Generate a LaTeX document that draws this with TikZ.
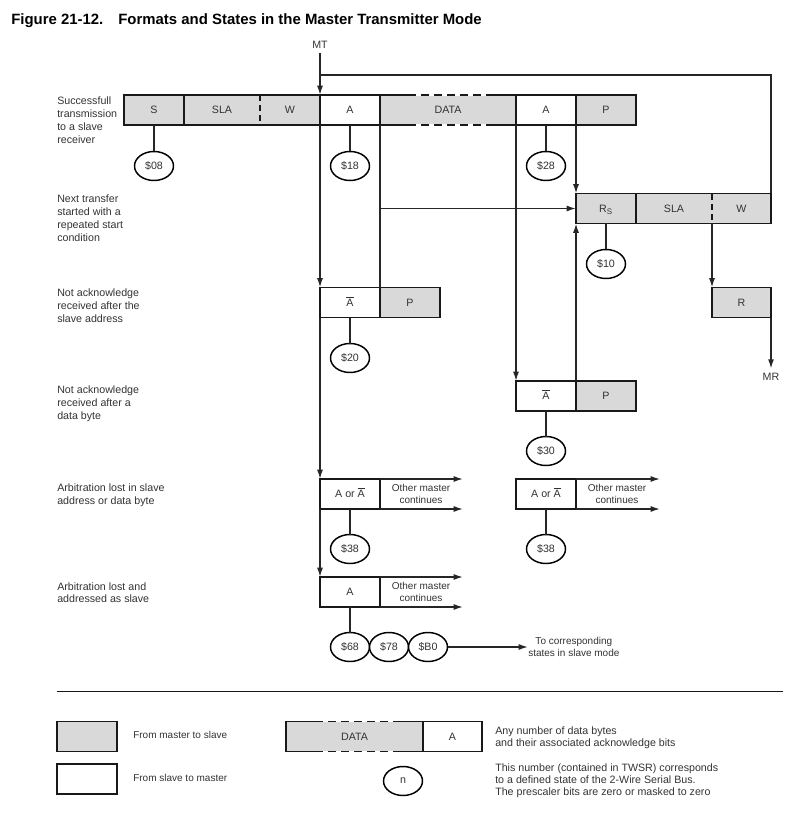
\documentclass[tikz,border=0pt]{standalone}
\usepackage{fontspec}
\setmainfont{Liberation Sans}
\usepackage{xcolor}
\usepackage{tikz}
\usetikzlibrary{shapes,shapes.geometric}
\usetikzlibrary{calc,arrows.meta,positioning}
\definecolor{fieldgray}{HTML}{D9D9D9}
\definecolor{inkgray}{HTML}{333333}
\newcommand{\nack}{$\overline{\mbox{A}}$}
% outline of a DATA field: solid ends, dashed middle
\newcommand{\dataframe}[3]{%
	\path (#1.north west) ++(#2,0) coordinate (#1-tl) (#1.north east) ++(-#3,0) coordinate (#1-tr)
		(#1.south west) ++(#2,0) coordinate (#1-bl) (#1.south east) ++(-#3,0) coordinate (#1-br);
	\draw[boxline] (#1-tl) -- (#1.north west) -- (#1.south west) -- (#1-bl)
		(#1-tr) -- (#1.north east) -- (#1.south east) -- (#1-br);
	\draw[boxline, draw=white] (#1-tl) -- (#1-tr) (#1-bl) -- (#1-br);
	\draw[boxline, dash pattern=on 6pt off 3.75pt] (#1-tl) -- (#1-tr) (#1-bl) -- (#1-br);}

\begin{document}
\begin{tikzpicture}[x=0.75pt,y=-0.75pt,
		txt/.style={font=\fontsize{8}{9.6}\selectfont, text=inkgray},
		boxline/.style={draw=black!90, line width=1.4pt},
		field/.style={rectangle, boxline, minimum width=45pt, minimum height=22.5pt, inner sep=0pt, outer sep=0pt, text height=5.8pt, text depth=0pt, txt},
		m2s/.style={field, fill=fieldgray},
		s2m/.style={field, fill=white},
		state/.style={ellipse, draw=black, line width=1.1pt, minimum width=29.25pt, minimum height=21.75pt, inner sep=0pt, outer sep=0pt, fill=white, txt},
		conn/.style={draw=black!85, line width=1.1pt},
		arr/.style={conn, -{Latex[length=7pt,width=4.5pt]}},
		note/.style={txt, align=left, anchor=north west, inner sep=0pt},
		cont/.style={font=\fontsize{7.5}{8.8}\selectfont, text=inkgray, align=center, inner sep=0pt},
		legtxt/.style={font=\fontsize{7.5}{9}\selectfont, text=inkgray, inner sep=0pt},
		sep/.style={boxline, dash pattern=on 4.6pt off 3pt}]
	\useasboundingbox (0,0) rectangle (807,823);
	
	% title and entry/exit
	\node[anchor=base west, inner sep=0pt, font=\fontsize{11.2}{13}\selectfont\bfseries] (title) at (11,25)
		{Figure 21-12.\hspace{1em}Formats and States in the Master Transmitter Mode};
	\node[txt] (mt) at (320,45) {MT};
	\node[txt] (mr) at (771,377) {MR};
	
	% row labels
	\node[note] (lab1) at (57,97) {Successfull\\transmission\\to a slave\\receiver};
	\node[note] (lab2) at (57,195) {Next transfer\\started with a\\repeated start\\condition};
	\node[note] (lab3) at (57,289) {Not acknowledge\\received after the\\slave address};
	\node[note] (lab4) at (57,386) {Not acknowledge\\received after a\\data byte};
	\node[note] (lab5) at (57,484) {Arbitration lost in slave\\address or data byte};
	\node[note] (lab6) at (57,582) {Arbitration lost and\\addressed as slave};
	
	% successfull transmission
	\node[m2s] (s1) at (154,110) {S};
	\node[m2s, draw=none, minimum width=57pt] (sla1) at (222,110) {SLA};
	\node[m2s, draw=none] (w1) at (290,110) {W};
	\node[s2m] (a1) at (350,110) {A};
	\node[m2s, draw=none, minimum width=102pt] (data1) at (448,110) {DATA};
	\node[s2m] (ack1) at (546,110) {A};
	\node[m2s] (p1) at (606,110) {P};
	\draw[boxline] (sla1.north west) rectangle (w1.south east);
	\draw[sep] (sla1.north east) -- (sla1.south east);
	\dataframe{data1}{28}{29}
	
	% repeated start
	\node[m2s] (rs2) at (606,208.5) {R\textsubscript{S}};
	\node[m2s, draw=none, minimum width=57pt] (sla2) at (674,208.5) {SLA};
	\node[m2s, draw=none, minimum width=44.25pt] (w2) at (741.5,208.5) {W};
	\draw[boxline] (sla2.north west) rectangle (w2.south east);
	\draw[sep] (sla2.north east) -- (sla2.south east);
	\node[m2s, minimum width=44.25pt] (r3) at (741.5,302.5) {R};
	
	% not acknowledge
	\node[s2m] (nak3) at (350,302.5) {\nack};
	\node[m2s] (p3) at (410,302.5) {P};
	\node[s2m] (nak4) at (546,396) {\nack};
	\node[m2s] (p4) at (606,396) {P};
	
	% arbitration lost
	\node[s2m] (al5) at (350,494) {A or \nack};
	\node[cont] (om5) at (421,494) {Other master\\continues};
	\node[s2m] (al5r) at (546,494) {A or \nack};
	\node[cont] (om5r) at (617,494) {Other master\\continues};
	\node[s2m] (al6) at (350,592) {A};
	\node[cont] (om6) at (421,592) {Other master\\continues};
	
	% status codes
	\node[state] (st08) at (154,166) {\$08};
	\node[state] (st18) at (350,166) {\$18};
	\node[state] (st28) at (546,166) {\$28};
	\node[state] (st10) at (606,264) {\$10};
	\node[state] (st20) at (350,358) {\$20};
	\node[state] (st30) at (546,451) {\$30};
	\node[state] (st38) at (350,549) {\$38};
	\node[state] (st38r) at (546,549) {\$38};
	\node[state] (st68) at (350,647) {\$68};
	\node[state] (st78) at (389,647) {\$78};
	\node[state] (stb0) at (428,647) {\$B0};
	\node[cont, anchor=west] (slv) at (528,647) {To corresponding\\states in slave mode};
	
	\draw[conn] (s1.south) -- (st08);
	\draw[conn] (a1.south) -- (st18);
	\draw[conn] (ack1.south) -- (st28);
	\draw[conn] (rs2.south) -- (st10);
	\draw[conn] (nak3.south) -- (st20);
	\draw[conn] (nak4.south) -- (st30);
	\draw[conn] (al5.south) -- (st38);
	\draw[conn] (al5r.south) -- (st38r);
	\draw[conn] (al6.south) -- (st68);
	\draw[arr] (stb0) -- (slv);
	
	% flow
	\coordinate (loop) at (320,75);
	\draw[arr] (mt) -- (a1.north west);
	\draw[conn] (w2.north east) |- (loop);
	\draw[arr] (a1.south west) -- (nak3.north west);
	\draw[arr] (nak3.south west) -- (al5.north west);
	\draw[arr] (al5.south west) -- (al6.north west);
	\draw[conn] (a1.south east) -- (p3.north west);
	\draw[arr] (a1.south east |- rs2.west) -- (rs2.west);
	\draw[arr] (data1.south east) -- (nak4.north west);
	\draw[arr] (ack1.south east) -- (rs2.north west);
	\draw[arr] (p4.north west) -- (rs2.south west);
	\draw[arr] (sla2.south east) -- (r3.north west);
	\draw[arr] (r3.south east) -- (mr);
	\draw[arr] (al5.north east) -- ++(83,0);
	\draw[arr] (al5.south east) -- ++(83,0);
	\draw[arr] (al5r.north east) -- ++(84,0);
	\draw[arr] (al5r.south east) -- ++(84,0);
	\draw[arr] (al6.north east) -- ++(83,0);
	\draw[arr] (al6.south east) -- ++(83,0);
	
	% legend
	\draw[boxline] (57,691.5) -- (783,691.5);
	\node[m2s] (keym2s) at (87,736.5) {};
	\node[legtxt, anchor=west] (keym2st) at (133,735) {From master to slave};
	\node[s2m] (keys2m) at (87,779) {};
	\node[legtxt, anchor=west] (keys2mt) at (133,777.5) {From slave to master};
	\node[m2s, draw=none, minimum width=102.75pt] (keydata) at (354.5,736.5) {DATA};
	\node[s2m, minimum width=44.25pt] (keyack) at (452.5,736.5) {A};
	\dataframe{keydata}{29}{30}
	\node[state] (keyn) at (403,781) {n};
	\node[legtxt, font=\fontsize{8}{9}\selectfont, align=left, anchor=north west] (keydatat) at (495,726)
		{Any number of data bytes\\and their associated acknowledge bits};
	\node[legtxt, font=\fontsize{8}{9}\selectfont, align=left, anchor=north west] (keynt) at (495,763)
		{This number (contained in TWSR) corresponds\\to a defined state of the 2-Wire Serial Bus.\\The prescaler bits are zero or masked to zero};
\end{tikzpicture}
\end{document}
